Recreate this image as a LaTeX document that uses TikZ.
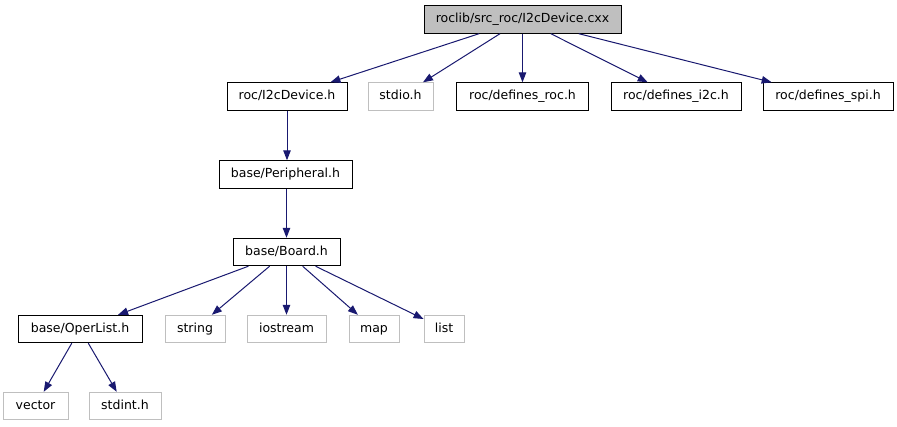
\documentclass[tikz,border=0pt]{standalone}
\usepackage{fontspec}
\setmainfont{DejaVu Sans}
\usetikzlibrary{arrows.meta}
\definecolor{edgecol}{HTML}{191970}
\definecolor{greyb}{HTML}{BFBFBF}
\begin{document}
\begin{tikzpicture}[x=1pt,y=-1pt,
  box/.style={draw=black, line width=0.9pt, fill=white, inner sep=0pt,
    minimum height=27.5pt, text height=9.4pt, text depth=2.6pt,
    font=\fontsize{12.5}{15}\selectfont},
  extbox/.style={box, draw=greyb},
  topbox/.style={box, fill=greyb},
  edge/.style={draw=edgecol, line width=1pt, -{Triangle[length=10pt,width=7.5pt]}}]
\useasboundingbox (0,0) rectangle (897,427);
\fill[white] (0,0) rectangle (897,427);
\node[topbox, minimum width=197pt] (top) at (522.5,19.5) {roclib/src\_roc/I2cDevice.cxx};
\node[box, minimum width=120pt] (i2cdev) at (287,96.5) {roc/I2cDevice.h};
\node[extbox, minimum width=65pt] (stdio) at (400.5,96.5) {stdio.h};
\node[box, minimum width=132pt] (droc) at (522.5,96.5) {roc/defines\_roc.h};
\node[box, minimum width=130pt] (di2c) at (676,96.5) {roc/defines\_i2c.h};
\node[box, minimum width=130pt] (dspi) at (828,96.5) {roc/defines\_spi.h};
\node[box, minimum width=133pt] (periph) at (285.5,174.5) {base/Peripheral.h};
\node[box, minimum width=107pt] (board) at (286.5,252) {base/Board.h};
\node[box, minimum width=124pt] (operlist) at (80,329) {base/OperList.h};
\node[extbox, minimum width=60pt] (string) at (195,329) {string};
\node[extbox, minimum width=79pt] (iostream) at (286.5,329) {iostream};
\node[extbox, minimum width=50pt] (map) at (374,329) {map};
\node[extbox, minimum width=40pt] (list) at (444,329) {list};
\node[extbox, minimum width=65pt] (vector) at (35.5,406) {vector};
\node[extbox, minimum width=72pt] (stdint) at (125,406) {stdint.h};
\draw[edge] (top) -- (i2cdev);
\draw[edge] (top) -- (stdio);
\draw[edge] (top) -- (droc);
\draw[edge] (top) -- (di2c);
\draw[edge] (top) -- (dspi);
\draw[edge] (i2cdev.south) -- (i2cdev.south |- periph.north);
\draw[edge] (board.north |- periph.south) -- (board.north);
\draw[edge] (board) -- (operlist);
\draw[edge] (board) -- (string);
\draw[edge] (board) -- (iostream);
\draw[edge] (board) -- (map);
\draw[edge] (board) -- (list);
\draw[edge] (operlist) -- (vector);
\draw[edge] (operlist) -- (stdint);
\end{tikzpicture}
\end{document}
